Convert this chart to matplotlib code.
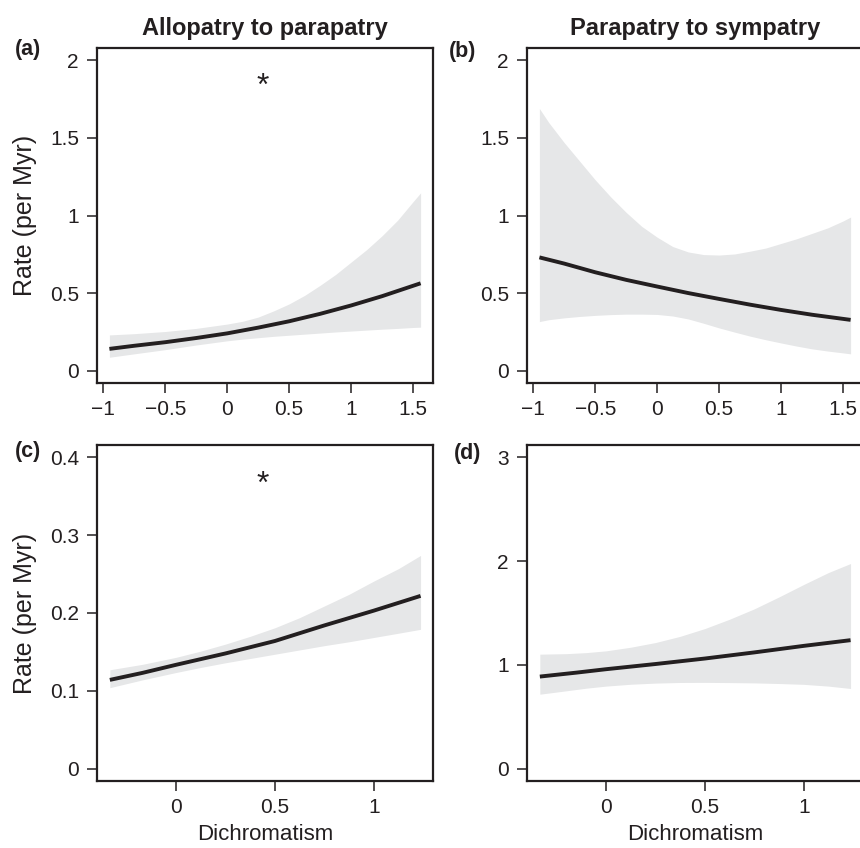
import matplotlib
matplotlib.use("Agg")
import matplotlib.pyplot as plt

plt.rcParams['font.family'] = ['Liberation Sans', 'DejaVu Sans']

# ---------------- data ----------------
titles = ["Allopatry to parapatry", "Parapatry to sympatry"]
panel_labels = ["(a)", "(b)", "(c)", "(d)"]
xlabel = "Dichromatism"
ylabel = "Rate (per Myr)"

# panel (a)
a_x_line = [-0.95, -0.75, -0.5, -0.25, 0.0, 0.25, 0.5, 0.75, 1.0, 1.25, 1.56]
a_y_line = [0.14, 0.16, 0.183, 0.21, 0.24, 0.277, 0.318, 0.366, 0.42, 0.48, 0.563]
a_x_band = [-0.95, -0.75, -0.5, -0.25, 0.0, 0.125, 0.25, 0.375, 0.5, 0.625, 0.75, 0.875,
            1.0, 1.125, 1.25, 1.375, 1.5, 1.56]
a_upper = [0.23, 0.238, 0.252, 0.272, 0.30, 0.318, 0.345, 0.385, 0.43, 0.485, 0.55, 0.62,
           0.70, 0.78, 0.87, 0.97, 1.09, 1.146]
a_lower = [0.086, 0.108, 0.135, 0.165, 0.192, 0.203, 0.212, 0.221, 0.228, 0.235, 0.242, 0.249,
           0.255, 0.261, 0.267, 0.272, 0.278, 0.28]

# panel (b)
b_x_line = [-0.95, -0.75, -0.5, -0.25, 0.0, 0.25, 0.5, 0.75, 1.0, 1.25, 1.56]
b_y_line = [0.73, 0.69, 0.634, 0.585, 0.542, 0.50, 0.462, 0.425, 0.391, 0.36, 0.327]
b_x_band = [-0.95, -0.875, -0.75, -0.625, -0.5, -0.375, -0.25, -0.125, 0.0, 0.125, 0.25,
            0.375, 0.5, 0.625, 0.75, 0.875, 1.0, 1.125, 1.25, 1.375, 1.5, 1.56]
b_upper = [1.69, 1.60, 1.47, 1.35, 1.23, 1.12, 1.02, 0.93, 0.86, 0.80, 0.765, 0.748, 0.745,
           0.752, 0.77, 0.79, 0.82, 0.85, 0.885, 0.92, 0.965, 0.99]
b_lower = [0.316, 0.328, 0.34, 0.349, 0.356, 0.361, 0.364, 0.364, 0.362, 0.352, 0.333, 0.305,
           0.275, 0.248, 0.222, 0.199, 0.178, 0.158, 0.14, 0.126, 0.114, 0.108]

# panel (c)
c_x_line = [-0.335, -0.17, 0.0, 0.25, 0.5, 0.75, 1.0, 1.237]
c_y_line = [0.114, 0.123, 0.1334, 0.148, 0.164, 0.184, 0.203, 0.222]
c_x_band = [-0.335, -0.17, 0.0, 0.125, 0.25, 0.375, 0.5, 0.625, 0.75, 0.875, 1.0, 1.125, 1.237]
c_upper = [0.127, 0.134, 0.143, 0.151, 0.16, 0.17, 0.181, 0.194, 0.209, 0.224, 0.241, 0.257, 0.274]
c_lower = [0.104, 0.114, 0.1235, 0.13, 0.136, 0.1415, 0.147, 0.1525, 0.158, 0.163, 0.1685, 0.174, 0.179]

# panel (d)
d_x_line = [-0.335, -0.15, 0.0, 0.25, 0.5, 0.75, 1.0, 1.237]
d_y_line = [0.887, 0.925, 0.958, 1.008, 1.061, 1.12, 1.183, 1.238]
d_x_band = [-0.335, -0.2, -0.1, 0.0, 0.125, 0.25, 0.375, 0.5, 0.625, 0.75, 0.875, 1.0, 1.125, 1.237]
d_upper = [1.103, 1.108, 1.118, 1.135, 1.17, 1.215, 1.275, 1.35, 1.44, 1.54, 1.655, 1.775, 1.89, 1.977]
d_lower = [0.717, 0.75, 0.775, 0.795, 0.813, 0.824, 0.83, 0.831, 0.829, 0.826, 0.82, 0.812, 0.795, 0.772]

# ticks
top_xticks = [-1, -0.5, 0, 0.5, 1, 1.5]
top_xticklabels = ["\u22121", "\u22120.5", "0", "0.5", "1", "1.5"]
bot_xticks = [0, 0.5, 1]
bot_xticklabels = ["0", "0.5", "1"]
ab_yticks = [0, 0.5, 1, 1.5, 2]
ab_yticklabels = ["0", "0.5", "1", "1.5", "2"]
c_yticks = [0, 0.1, 0.2, 0.3, 0.4]
c_yticklabels = ["0", "0.1", "0.2", "0.3", "0.4"]
d_yticks = [0, 1, 2, 3]
d_yticklabels = ["0", "1", "2", "3"]

# significance markers
star_a = (0.29, 1.78)
star_c = (0.44, 0.354)

# ---------------- figure ----------------
W, H = 860, 848
fig = plt.figure(figsize=(W / 100, H / 100), dpi=100)

def rect(left, top, w, h):
    return [left / W, 1 - (top + h) / H, w / W, h / H]

line_col = "#231f20"
band_col = "#e6e7e8"

panels = [
    dict(pos=rect(97, 48, 336, 335), xl=a_x_line, yl=a_y_line, xb=a_x_band, up=a_upper, lo=a_lower,
         xlim=(-1.05, 1.66), ylim=(-0.08, 2.08), xt=top_xticks, xtl=top_xticklabels,
         yt=ab_yticks, ytl=ab_yticklabels),
    dict(pos=rect(527, 48, 336, 335), xl=b_x_line, yl=b_y_line, xb=b_x_band, up=b_upper, lo=b_lower,
         xlim=(-1.05, 1.66), ylim=(-0.08, 2.08), xt=top_xticks, xtl=top_xticklabels,
         yt=ab_yticks, ytl=ab_yticklabels),
    dict(pos=rect(97, 445, 336, 336), xl=c_x_line, yl=c_y_line, xb=c_x_band, up=c_upper, lo=c_lower,
         xlim=(-0.40, 1.30), ylim=(-0.016, 0.416), xt=bot_xticks, xtl=bot_xticklabels,
         yt=c_yticks, ytl=c_yticklabels),
    dict(pos=rect(527, 445, 336, 336), xl=d_x_line, yl=d_y_line, xb=d_x_band, up=d_upper, lo=d_lower,
         xlim=(-0.40, 1.30), ylim=(-0.12, 3.12), xt=bot_xticks, xtl=bot_xticklabels,
         yt=d_yticks, ytl=d_yticklabels),
]

axes = []
for i, p in enumerate(panels):
    ax = fig.add_axes(p["pos"])
    ax.fill_between(p["xb"], p["lo"], p["up"], color=band_col, linewidth=0)
    ax.plot(p["xl"], p["yl"], color=line_col, linewidth=2.8, solid_capstyle="butt",
            solid_joinstyle="round")
    ax.set_xlim(*p["xlim"])
    ax.set_ylim(*p["ylim"])
    ax.set_xticks(p["xt"])
    ax.set_xticklabels(p["xtl"])
    ax.set_yticks(p["yt"])
    ax.set_yticklabels(p["ytl"])
    ax.tick_params(direction="out", length=7, width=1.1, labelsize=15, color=line_col,
                   labelcolor=line_col)
    ax.tick_params(axis="y", pad=6)
    ax.tick_params(axis="x", pad=5)
    for s in ax.spines.values():
        s.set_linewidth(1.6)
        s.set_color(line_col)
    axes.append(ax)

axes[0].set_title(titles[0], fontsize=17, fontweight="bold", color=line_col, pad=9)
axes[1].set_title(titles[1], fontsize=17, fontweight="bold", color=line_col, pad=9)
axes[0].set_ylabel(ylabel, fontsize=18, color=line_col, labelpad=9)
axes[2].set_ylabel(ylabel, fontsize=18, color=line_col, labelpad=9)
axes[2].set_xlabel(xlabel, fontsize=16, color=line_col, labelpad=5)
axes[3].set_xlabel(xlabel, fontsize=16, color=line_col, labelpad=5)

axes[0].text(star_a[0], star_a[1], "*", fontsize=23, ha="center", va="baseline", color=line_col)
axes[2].text(star_c[0], star_c[1], "*", fontsize=23, ha="center", va="baseline", color=line_col)

label_pos = [(28, 50), (463, 51), (28, 451), (468, 454)]
for lab, (px, py) in zip(panel_labels, label_pos):
    fig.text(px / W, 1 - py / H, lab, fontsize=15.5, fontweight="bold", ha="center", va="center",
             color=line_col)

fig.savefig("out.png", dpi=100)
